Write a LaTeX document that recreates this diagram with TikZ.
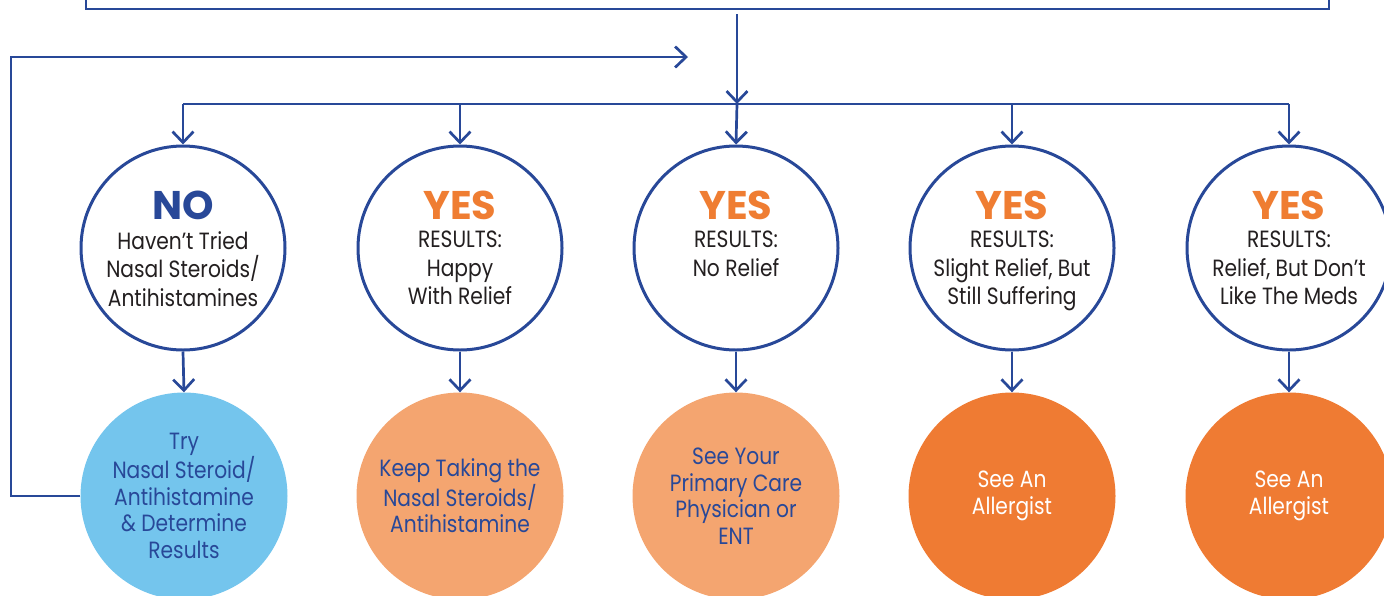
\documentclass[tikz,border=0pt]{standalone}
\usepackage{fontspec}
\setmainfont{Poppins}[FakeStretch=0.86]
\newfontfamily\headfont{Poppins}
\usetikzlibrary{arrows.meta}
\definecolor{navy}{RGB}{40,72,152}
\definecolor{ink}{RGB}{35,31,32}
\definecolor{yesorange}{RGB}{239,125,50}
\definecolor{skyfill}{RGB}{116,197,237}
\definecolor{peach}{RGB}{244,165,112}
\definecolor{deeporange}{RGB}{239,123,51}

\begin{document}
\begin{tikzpicture}[x=1pt,y=-1pt]
\tikzstyle{arr} = [draw=navy,line width=2.7pt,-{Straight Barb[length=11pt,width=21pt]}]
\tikzstyle{qcirc} = [circle,draw=navy,line width=3pt,fill=white,minimum size=204pt,inner sep=0pt]
\tikzstyle{acirc} = [circle,minimum size=207pt,inner sep=0pt,align=center,font=\fontsize{23.5}{26.5}\selectfont]
\tikzstyle{head} = [inner sep=0pt,text depth=0pt,font=\headfont\fontsize{40}{40}\selectfont\bfseries]
\tikzstyle{body} = [align=center,anchor=north,inner sep=0pt,text=ink,font=\fontsize{23.5}{28.5}\selectfont]

\useasboundingbox (0,0) rectangle (1384,595);

% box above, cut by the page
\draw[navy,line width=2.7pt] (86,0) -- (86,9) -- (1329,9) -- (1329,0);
\coordinate (boxout) at (737,14);
\coordinate (bar) at (737,104);
\coordinate (barL) at (183,104);
\coordinate (barR) at (1289,104);
\coordinate (loopcorner) at (11,57);
\coordinate (loopend) at (688,57);

% question circles
\node[qcirc] (q1) at (183,248) {};
\node[qcirc] (q2) at (460,248) {};
\node[qcirc] (q3) at (736,248) {};
\node[qcirc] (q4) at (1012,248) {};
\node[qcirc] (q5) at (1289,248) {};

\node[head,text=navy] (h1) at (183,205) {NO};
\node[head,text=yesorange] (h2) at (460,205) {YES};
\node[head,text=yesorange] (h3) at (736,205) {YES};
\node[head,text=yesorange] (h4) at (1012,205) {YES};
\node[head,text=yesorange] (h5) at (1289,205) {YES};

\node[body] (b1) at (183,231) {Haven’t Tried\\Nasal Steroids/\\Antihistamines};
\node[body] (b2) at (460,231) {RESULTS:\\Happy\\With Relief};
\node[body] (b3) at (736,231) {RESULTS:\\No Relief};
\node[body] (b4) at (1012,231) {RESULTS:\\Slight Relief, But\\Still Suffering};
\node[body] (b5) at (1289,231) {RESULTS:\\Relief, But Don’t\\Like The Meds};

% answer circles
\node[acirc,fill=skyfill,text=navy] (a1) at (184,496) {Try\\Nasal Steroid/\\Antihistamine\\\& Determine\\Results};
\node[acirc,fill=peach,text=navy] (a2) at (460,496) {Keep Taking the\\Nasal Steroids/\\Antihistamine};
\node[acirc,fill=peach,text=navy] (a3) at (736,496) {See Your\\Primary Care\\Physician or\\ENT};
\node[acirc,fill=deeporange,text=white] (a4) at (1012,496) {See An\\Allergist};
\node[acirc,fill=deeporange,text=white] (a5) at (1289,496) {See An\\Allergist};

% connectors
\draw[arr] (boxout) -- (bar);
\draw[navy,line width=2.7pt] (barL) -- (barR);
\draw[arr] (barL) -- (q1.north);
\draw[arr] (q2 |- bar) -- (q2.north);
\draw[arr] (bar) -- (q3.north);
\draw[arr] (q4 |- bar) -- (q4.north);
\draw[arr] (barR) -- (q5.north);

\draw[arr] (q1.south) -- (a1.north);
\draw[arr] (q2.south) -- (a2.north);
\draw[arr] (q3.south) -- (a3.north);
\draw[arr] (q4.south) -- (a4.north);
\draw[arr] (q5.south) -- (a5.north);

\draw[arr] (a1.west) -| (loopcorner) -- (loopend);
\end{tikzpicture}
\end{document}
